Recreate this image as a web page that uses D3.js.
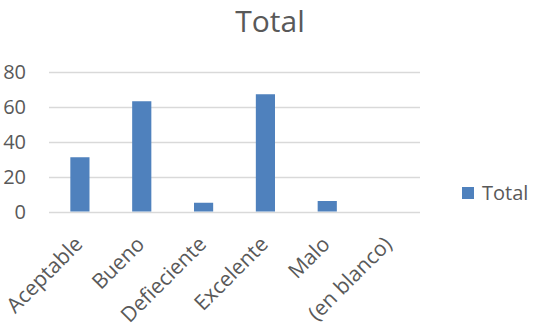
<!DOCTYPE html>
<html>
<head>
<meta charset="utf-8">
<script src="https://cdn.jsdelivr.net/npm/d3@7"></script>
<style>
  html, body { margin: 0; padding: 0; background: #ffffff; }
  svg { display: block; font-family: "Open Sans", sans-serif; }
</style>
</head>
<body>
<svg id="chart" width="539" height="327"></svg>
<script>
// Chart data
const categories = ["Aceptable", "Bueno", "Defieciente", "Excelente", "Malo", "(en blanco)"];
const values = [31, 63, 5, 67, 6, 0];
const yTicks = [0, 20, 40, 60, 80];
const seriesName = "Total";
const titleText = "Total";

const svg = d3.select("#chart");
const textColor = "#595959";
const barColor = "#4f81bd";
const gridColor = "#d9d9d9";

const plot = { left: 49, right: 420, top: 71.5, bottom: 211.5 };

const x = d3.scaleBand()
  .domain(categories)
  .range([plot.left, plot.right])
  .paddingInner(0.69)
  .paddingOuter(0.345);

const y = d3.scaleLinear()
  .domain([0, 80])
  .range([plot.bottom, plot.top]);

// Title
svg.append("text")
  .attr("x", 270)
  .attr("y", 32)
  .attr("text-anchor", "middle")
  .attr("font-size", 30)
  .attr("fill", textColor)
  .text(titleText);

// Horizontal gridlines
svg.append("g")
  .selectAll("line")
  .data(yTicks)
  .join("line")
  .attr("x1", plot.left)
  .attr("x2", plot.right)
  .attr("y1", d => Math.round(y(d)) + 0.5)
  .attr("y2", d => Math.round(y(d)) + 0.5)
  .attr("stroke", gridColor)
  .attr("stroke-width", 1.3);

// Y axis labels
const yAxis = d3.axisLeft(y).tickValues(yTicks).tickSize(0).tickPadding(0);
const yg = svg.append("g")
  .attr("transform", `translate(26,0)`)
  .call(yAxis);
yg.select(".domain").remove();
yg.selectAll("text")
  .attr("font-size", 20)
  .attr("font-family", "Open Sans, sans-serif")
  .attr("fill", textColor)
  .attr("dy", "0.36em");

// Bars
svg.append("g")
  .selectAll("rect")
  .data(categories.map((c, i) => ({ c, v: values[i] })))
  .join("rect")
  .attr("x", d => x(d.c))
  .attr("width", x.bandwidth())
  .attr("y", d => y(d.v))
  .attr("height", d => y(0) - y(d.v))
  .attr("fill", barColor);

// X axis labels, rotated
const xAxis = d3.axisBottom(x).tickSize(0).tickPadding(0);
const xg = svg.append("g")
  .attr("transform", `translate(0,${plot.bottom})`)
  .call(xAxis);
xg.select(".domain").remove();
xg.selectAll("text")
  .attr("font-size", 21)
  .attr("font-family", "Open Sans, sans-serif")
  .attr("fill", textColor)
  .attr("text-anchor", "end")
  .attr("dy", null)
  .attr("y", null)
  .attr("transform", "translate(4,34) rotate(-45)");

// Legend
const legend = svg.append("g").attr("transform", "translate(462,187)");
legend.append("rect")
  .attr("width", 12)
  .attr("height", 12)
  .attr("fill", barColor);
legend.append("text")
  .attr("x", 20)
  .attr("y", 6)
  .attr("dy", "0.36em")
  .attr("font-size", 20)
  .attr("fill", textColor)
  .text(seriesName);
</script>
</body>
</html>
